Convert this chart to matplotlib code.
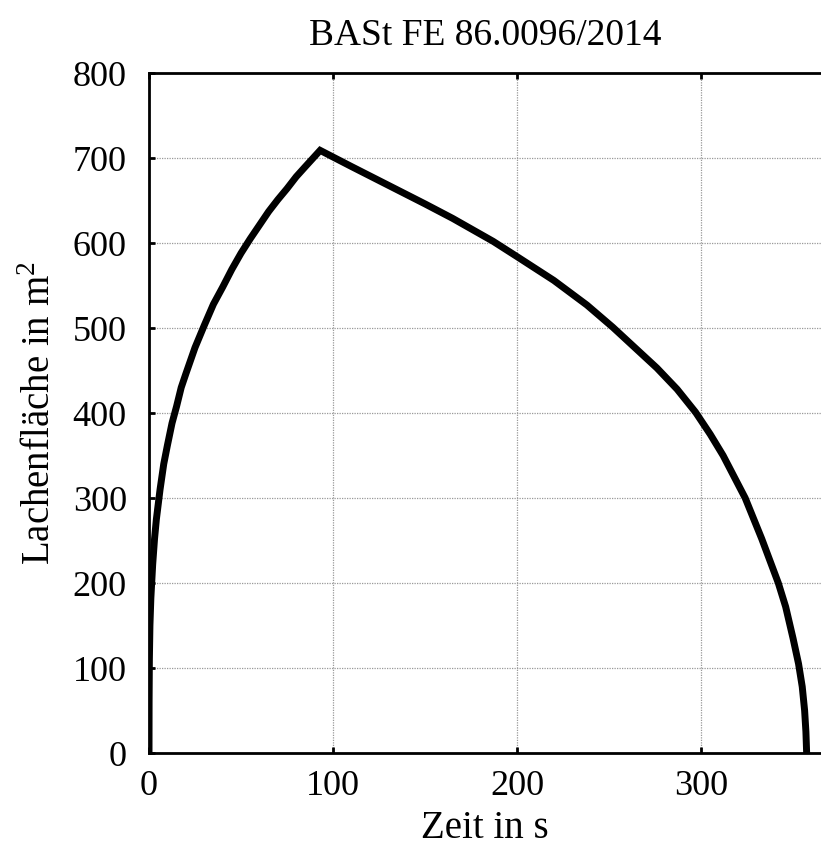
import matplotlib

matplotlib.use("Agg")
import matplotlib.pyplot as plt

# Zeit in s / Lachenfläche in m^2
t_rise = [0, 0.05, 0.2, 0.5, 1, 2, 3, 4, 6, 8, 10, 12.5, 15, 17.5, 20, 25, 30, 35, 40,
          45, 50, 55, 60, 65, 70, 75, 80, 85, 93]
a_rise = [0, 60, 110, 150, 182, 222, 252, 275, 310, 340, 362, 388, 408, 430, 446, 477,
          503, 528, 548, 569, 588, 605, 621, 637, 651, 664, 678, 690, 709]

t_fall = [93, 110, 130, 150, 165, 187, 200, 220, 238, 252, 265, 276, 287, 297, 305,
          312, 318, 324, 333, 342, 346, 350, 353, 355, 356.3, 357, 357.4]
a_fall = [709, 690, 668, 646, 629, 602, 584, 556, 527, 501, 475, 453, 428, 401, 375,
          350, 325, 300, 252, 200, 172, 135, 105, 78, 50, 25, 0]

t = t_rise + t_fall[1:]
area = a_rise + a_fall[1:]

plt.rcParams["font.family"] = "Liberation Serif"
plt.rcParams["mathtext.fontset"] = "custom"
plt.rcParams["mathtext.rm"] = "Liberation Serif"
plt.rcParams["font.size"] = 26

fig = plt.figure(figsize=(8.21, 8.6), dpi=100)
ax = fig.add_axes([0.1815, 0.1244, 0.8185, 0.7907])

ax.plot(t, area, color="black", lw=5, solid_joinstyle="miter", zorder=3)

ax.set_xlim(0, 365.2)
ax.set_ylim(0, 800)
ax.set_xticks([0, 100, 200, 300])
ax.set_yticks(range(0, 801, 100))
ax.grid(True, color="#999999", linestyle=(0, (1, 1)), lw=0.9)
ax.tick_params(direction="in", length=4, width=2, top=True, right=False,
               pad=12, labelsize=26)
ax.tick_params(axis="y", pad=16)
for s in ["left", "bottom", "top"]:
    ax.spines[s].set_linewidth(2)
ax.spines["right"].set_visible(False)

ax.set_title("BASt FE 86.0096/2014", fontsize=27, pad=20)
ax.set_xlabel("Zeit in s", fontsize=28, labelpad=5)
ax.set_ylabel("Lachenfläche in m$^2$", fontsize=28, labelpad=10)

fig.savefig("out.png", dpi=100)
